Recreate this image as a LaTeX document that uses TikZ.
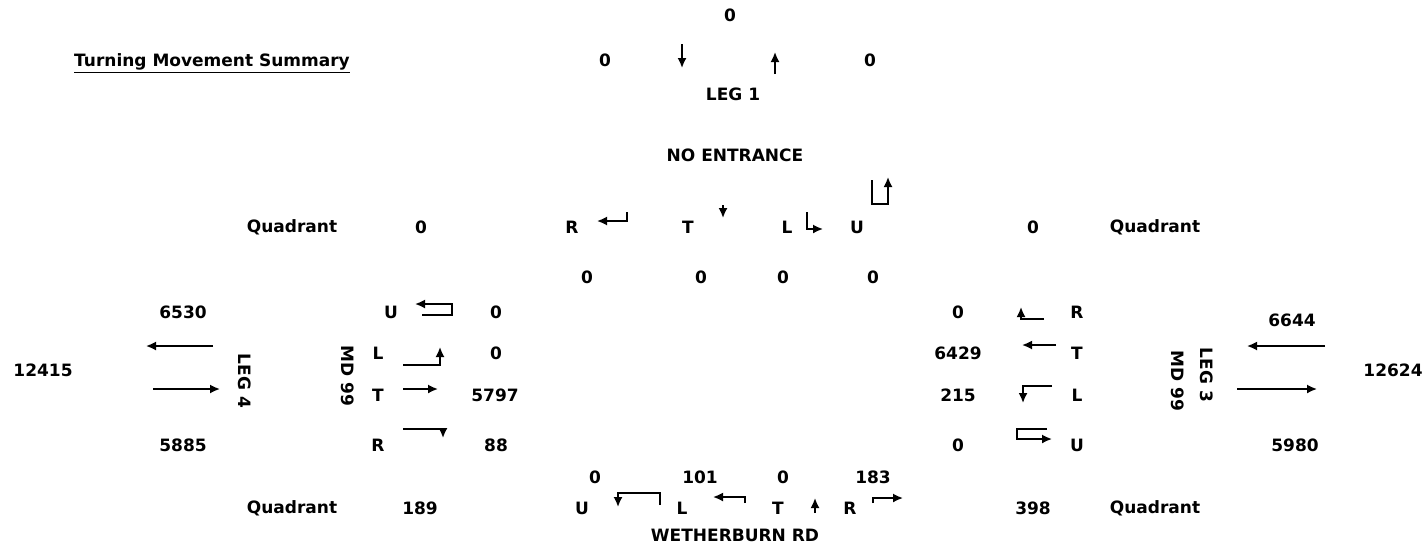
\documentclass[tikz,border=0pt]{standalone}
\usepackage{fontspec}
\setmainfont{DejaVu Sans}
\usetikzlibrary{arrows.meta}
\tikzset{
  lbl/.style={font=\fontsize{8.5}{10}\selectfont\bfseries, inner sep=0pt},
  mv/.style={line width=0.85pt, -{Latex[length=5pt,width=4.5pt]}},
}

\begin{document}
\begin{tikzpicture}[x=0.5pt,y=-0.5pt]
        \useasboundingbox (0,0) rectangle (1428,547);
        \node [lbl, anchor=base] (title) at (212,66) {\underline{Turning Movement Summary}};
        % leg 1
        \node [lbl] (l1tot) at (730,15) {0};
        \node [lbl] (l1out) at (605,60) {0};
        \node [lbl] (l1in) at (870,60) {0};
        \node [lbl] (leg1) at (733,94) {LEG 1};
        \node [lbl] (l1name) at (735,155) {NO ENTRANCE};
        \draw [mv] (682,44)--(682,68);
        \draw [mv] (775,74)--(775,52);
        \node [lbl] (qnw) at (292,227) {Quadrant};
        \node [lbl] (qnwv) at (421,227) {0};
        \node [lbl] (l1r) at (572,227) {R};
        \node [lbl] (l1t) at (688,227) {T};
        \node [lbl] (l1l) at (787,227) {L};
        \node [lbl] (l1u) at (857,227) {U};
        \node [lbl] (qnev) at (1033,227) {0};
        \node [lbl] (qne) at (1155,227) {Quadrant};
        \draw [mv] (627,212)--(627,221)--(597,221);
        \draw [mv] (723,205)--(723,218);
        \draw [mv] (807,212)--(807,229)--(823,229);
        \draw [mv] (872,180)--(872,204)--(888,204)--(888,177);
        \node [lbl] (l1rv) at (587,277) {0};
        \node [lbl] (l1tv) at (701,277) {0};
        \node [lbl] (l1lv) at (783,277) {0};
        \node [lbl] (l1uv) at (873,277) {0};
        % leg 4
        \node [lbl] (l4out) at (183,312) {6530};
        \node [lbl] (l4tot) at (43,370) {12415};
        \node [lbl] (l4in) at (183,445) {5885};
        \draw [mv] (213,346)--(146,346);
        \draw [mv] (153,389)--(220,389);
        \node [lbl, rotate=-90] (leg4) at (245,381) {LEG 4};
        \node [lbl, rotate=-90] (l4name) at (348,376) {MD 99};
        \node [lbl] (l4u) at (391,312) {U};
        \node [lbl] (l4l) at (378,353) {L};
        \node [lbl] (l4t) at (378,395) {T};
        \node [lbl] (l4r) at (378,445) {R};
        \node [lbl] (l4uv) at (496,312) {0};
        \node [lbl] (l4lv) at (496,353) {0};
        \node [lbl] (l4tv) at (495,395) {5797};
        \node [lbl] (l4rv) at (496,445) {88};
        \draw [mv] (422,315)--(452,315)--(452,304)--(415,304);
        \draw [mv] (403,365)--(440,365)--(440,347);
        \draw [mv] (403,389)--(438,389);
        \draw [mv] (403,429)--(443,429)--(443,438);
        % leg 3
        \node [lbl] (l3rv) at (958,312) {0};
        \node [lbl] (l3tv) at (958,353) {6429};
        \node [lbl] (l3lv) at (958,395) {215};
        \node [lbl] (l3uv) at (958,445) {0};
        \node [lbl] (l3r) at (1077,312) {R};
        \node [lbl] (l3t) at (1077,353) {T};
        \node [lbl] (l3l) at (1077,395) {L};
        \node [lbl] (l3u) at (1077,445) {U};
        \draw [mv] (1044,319)--(1021,319)--(1021,307);
        \draw [mv] (1056,345)--(1022,345);
        \draw [mv] (1052,386)--(1023,386)--(1023,403);
        \draw [mv] (1047,429)--(1017,429)--(1017,439)--(1052,439);
        \node [lbl, rotate=-90] (l3name) at (1178,381) {MD 99};
        \node [lbl, rotate=-90] (leg3) at (1207,375) {LEG 3};
        \node [lbl] (l3in) at (1292,320) {6644};
        \node [lbl] (l3tot) at (1393,370) {12624};
        \node [lbl] (l3out) at (1295,445) {5980};
        \draw [mv] (1325,346)--(1247,346);
        \draw [mv] (1237,389)--(1317,389);
        % leg 2
        \node [lbl] (l2uv) at (595,477) {0};
        \node [lbl] (l2lv) at (700,477) {101};
        \node [lbl] (l2tv) at (783,477) {0};
        \node [lbl] (l2rv) at (873,477) {183};
        \node [lbl] (qsw) at (292,508) {Quadrant};
        \node [lbl] (qswv) at (420,508) {189};
        \node [lbl] (l2u) at (582,508) {U};
        \node [lbl] (l2l) at (682,508) {L};
        \node [lbl] (l2t) at (778,508) {T};
        \node [lbl] (l2r) at (850,508) {R};
        \node [lbl] (qsev) at (1033,508) {398};
        \node [lbl] (qse) at (1155,508) {Quadrant};
        \node [lbl] (l2name) at (735,535) {WETHERBURN RD};
        \draw [mv] (660,505)--(660,493)--(618,493)--(618,507);
        \draw [mv] (745,503)--(745,497)--(713,497);
        \draw [mv] (815,513)--(815,498);
        \draw [mv] (873,503)--(873,498)--(903,498);
\end{tikzpicture}
\end{document}
